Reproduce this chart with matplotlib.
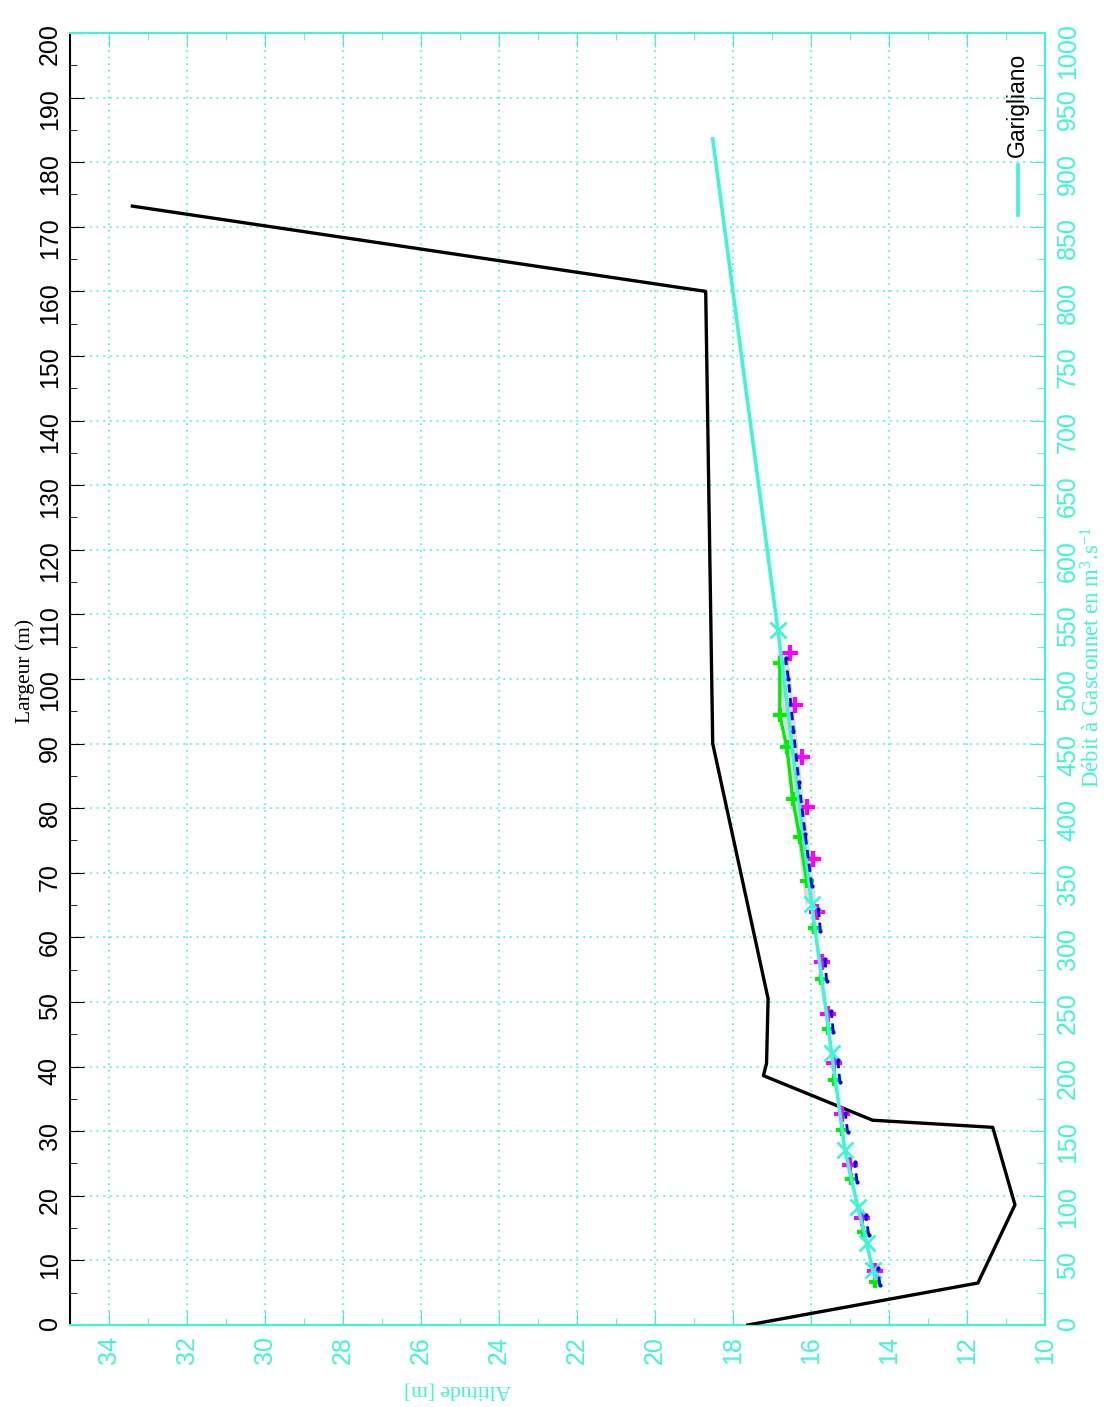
import matplotlib
matplotlib.use("Agg")
import matplotlib.pyplot as plt
from matplotlib.ticker import MultipleLocator

plt.rcParams["font.family"] = ["Liberation Sans", "DejaVu Sans"]
plt.rcParams["mathtext.default"] = "regular"

CYAN = "#3ff5d6"
nan = float("nan")

# river cross-section: width (m) against altitude (m)
largeur = [0, 6.5, 18.6, 30.6, 31.7, 38.6, 40.5, 50.5, 90, 160, 173.2]
alt_profil = [17.62, 11.72, 10.77, 11.34, 14.42, 17.22, 17.14, 17.1, 18.52, 18.7, 33.4]

# rating curve (Garigliano): discharge against water level
q_courbe = [36, 42.6, 63.5, 91.3, 135.4, 210.5, 325.5, 538, 918]
z_courbe = [14.35, 14.42, 14.57, 14.80, 15.13, 15.47, 15.98, 16.85, 18.52]

# gaugings: upper bounds (magenta)
q_mag = [42, 83, 124, 163, 203, 241, 281, 320, 361, 401, 440, 480, 520]
z_mag = [14.36, 14.70, 14.99, 15.20, 15.40, 15.56, 15.71, 15.85, 15.96, 16.11, 16.24, 16.42, 16.55]

# gaugings: lower bounds (green), isolated points then a continuous run
q_grn_pts = [33, 72, 113, 151, 190, 229, 268, 307]
z_grn_pts = [14.36, 14.66, 14.97, 15.21, 15.40, 15.57, 15.74, 15.92]
q_grn = [344, 378, 407, 447, 472, 512]
z_grn = [16.11, 16.29, 16.47, 16.62, 16.80, 16.80]

# mean gauging values (blue dashed), one short segment per gauging below 330
q_blu = [31, 44, nan, 70, 85, nan, 111, 126, nan, 149, 164, nan, 188, 205, nan,
         227, 243, nan, 266, 283, nan, 305, 322, nan, 340, 380, 420, 460, 500, 516]
z_blu = [14.24, 14.28, nan, 14.52, 14.60, nan, 14.82, 14.88, nan, 15.06, 15.12, nan,
         15.26, 15.31, nan, 15.43, 15.48, nan, 15.60, 15.64, nan, 15.76, 15.81, nan,
         15.98, 16.15, 16.31, 16.45, 16.58, 16.65]

# confidence envelope (light grey)
q_gris = [330, 380, 420, 460, 500, 516]
z_gris = [16.02, 16.22, 16.38, 16.52, 16.66, 16.72]

fig = plt.figure(figsize=(11.09, 14.07), dpi=100)
ax = fig.add_axes([0.06312, 0.05828, 0.87917, 0.91827])
ax2 = ax.twinx()

ax.plot(alt_profil, largeur, color="black", lw=2.4, zorder=3)

ax2.plot(z_gris, q_gris, color="#d2d2d2", lw=8, alpha=0.8, zorder=1)
ax2.plot(z_grn, q_grn, color="#00ee00", lw=2.4, marker="+", ms=10, mew=3, zorder=3)
ax2.plot(z_grn_pts, q_grn_pts, ls="none", color="#00ee00", marker="+", ms=9, mew=3, zorder=3)
ax2.plot(z_mag, q_mag, ls="none", color="#ff00ff", marker="+", ms=11, mew=3, zorder=3)
ax2.plot(z_courbe, q_courbe, color=CYAN, lw=2.6, marker="x", ms=11, mew=2,
         markevery=[1, 2, 3, 4, 5, 6, 7], zorder=4)
ax2.plot(z_blu, q_blu, color="#0000ff", lw=2, ls="--", dashes=(3, 2),
         marker=".", ms=4, zorder=5)

ax.set_xlim(35, 10)
ax.set_ylim(0, 200)
ax2.set_ylim(0, 1000)

ax.xaxis.set_major_locator(MultipleLocator(2))
ax.xaxis.set_minor_locator(MultipleLocator(1))
ax.yaxis.set_major_locator(MultipleLocator(10))
ax.yaxis.set_minor_locator(MultipleLocator(5))
ax2.yaxis.set_major_locator(MultipleLocator(50))
ax2.yaxis.set_minor_locator(MultipleLocator(25))

ax.tick_params(axis="x", which="both", direction="in", colors=CYAN, top=True,
               labelsize=18, labelrotation=90, pad=8)
ax.tick_params(axis="x", which="major", length=10)
ax.tick_params(axis="x", which="minor", length=5)
ax.tick_params(axis="y", which="both", direction="in", colors="black",
               labelsize=18, labelrotation=90, pad=6)
ax.tick_params(axis="y", which="major", length=10)
ax.tick_params(axis="y", which="minor", length=5)
ax2.tick_params(axis="y", which="both", direction="in", colors=CYAN,
                labelsize=18, labelrotation=90, pad=8)
ax2.tick_params(axis="y", which="major", length=10)
ax2.tick_params(axis="y", which="minor", length=6)

ax.grid(True, which="major", color=CYAN, ls=(0, (1, 3)), lw=1.2)
ax.set_axisbelow(True)

for s in ["bottom", "top", "right"]:
    ax.spines[s].set_color(CYAN)
    ax.spines[s].set_linewidth(1.5)
ax.spines["left"].set_color("black")
ax.spines["left"].set_linewidth(1.5)
for s in ["bottom", "top", "left"]:
    ax2.spines[s].set_visible(False)
ax2.spines["right"].set_color(CYAN)
ax2.spines["right"].set_linewidth(1.5)

ax.text(-0.046, 0.506, "Largeur (m)", transform=ax.transAxes, rotation=90,
        ha="center", va="center", fontsize=15.5, family="Liberation Serif")
ax.text(0.397, -0.0503, "Altitude [m]", transform=ax.transAxes, rotation=180,
        ha="center", va="center", fontsize=15.5, family="Liberation Serif", color=CYAN)
ax.text(1.049, 0.517, "Débit à Gasconnet en m$^{3}$.s$^{-1}$", transform=ax.transAxes,
        rotation=90, ha="center", va="center", fontsize=16.5,
        family="Liberation Serif", color=CYAN)

# legend drawn upright along the right edge
ax.plot([0.972, 0.972], [0.859, 0.898], transform=ax.transAxes, color=CYAN,
        lw=2.6, clip_on=False)
ax.text(0.972, 0.904, "Garigliano", transform=ax.transAxes, rotation=90,
        ha="center", va="bottom", fontsize=16.5)

fig.savefig("out.png", dpi=100)
